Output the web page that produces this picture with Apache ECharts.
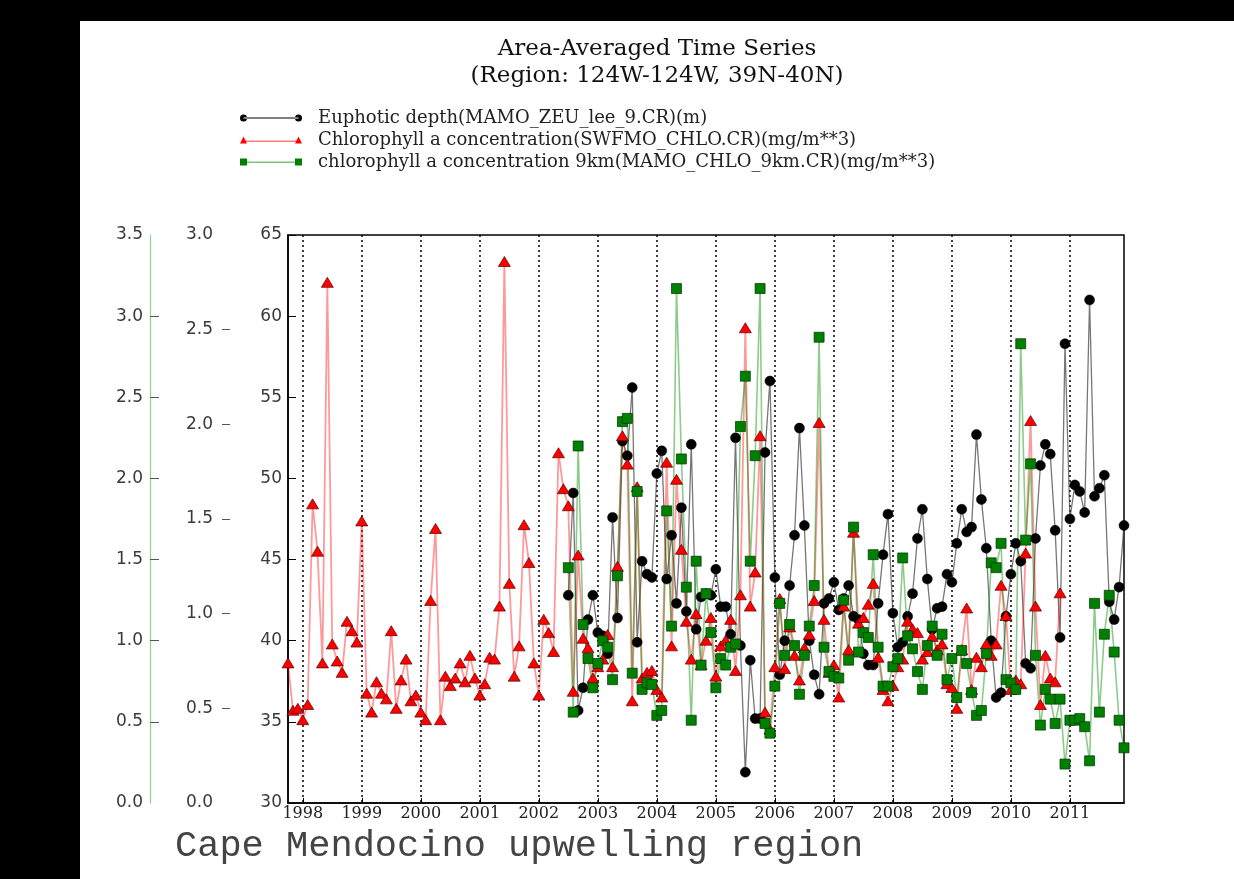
<!DOCTYPE html>
<html><head><meta charset="utf-8">
<script src="https://cdn.jsdelivr.net/npm/echarts@6/dist/echarts.min.js"></script>
<style>
html,body{margin:0;padding:0;background:#000;width:1234px;height:879px;overflow:hidden}
#c{position:absolute;left:80px;top:21px;width:1154px;height:858px;background:#fff}
</style></head><body><div id="c"></div>
<script>
// Monthly categories Oct 1997 .. Dec 2011
const months = [];
for (let y = 1997; y <= 2011; y++) for (let m = 1; m <= 12; m++) {
  if (y === 1997 && m < 10) continue;
  months.push(y + '-' + String(m).padStart(2, '0'));
}
const yearTicks = ['1998','1999','2000','2001','2002','2003','2004','2005','2006','2007','2008','2009','2010','2011'];

// Euphotic depth (m), Jul 2002 .. Dec 2011
const zeuStart = '2002-07';
const zeu = [
  42.8, 49.1, 35.7, 37.1, 41.3, 42.8,
  40.5, 40.3, 39.2, 47.6, 41.4, 52.3, 51.4, 55.6, 39.9, 44.9, 44.1, 43.9,
  50.3, 51.7, 43.8, 46.5, 42.3, 48.2, 41.8, 52.1, 40.7, 42.7, 42.9, 42.8,
  44.4, 42.1, 42.1, 40.4, 52.5, 39.7, 31.9, 38.8, 35.2, 35.2, 51.6, 56.0,
  43.9, 37.9, 40.0, 43.4, 46.5, 53.1, 47.1, 40.0, 37.9, 36.7, 42.3, 42.6,
  43.6, 41.9, 42.6, 43.4, 41.5, 41.3, 39.2, 38.5, 38.5, 42.3, 45.3, 47.8,
  41.7, 39.6, 39.9, 41.5, 42.9, 46.3, 48.1, 43.8, 40.7, 42.0, 42.1, 44.1,
  43.6, 46.0, 48.1, 46.7, 47.0, 52.7, 48.7, 45.7, 40.0, 36.5, 36.8, 41.5,
  44.1, 46.0, 44.9, 38.6, 38.3, 46.3, 50.8, 52.1, 51.5, 46.8, 40.2, 58.3,
  47.5, 49.6, 49.2, 47.9, 61.0, 48.9, 49.4, 50.2, 42.4, 41.3, 43.3, 47.1
];

// SeaWiFS chlorophyll (mg/m**3), Oct 1997 .. Nov 2010
const swfStart = '1997-10';
const swf = [
  0.74, 0.49, 0.50,
  0.44, 0.52, 1.58, 1.33, 0.74, 2.75, 0.84, 0.75, 0.69, 0.96, 0.91, 0.85,
  1.49, 0.58, 0.48, 0.64, 0.58, 0.55, 0.91, 0.50, 0.65, 0.76, 0.54, 0.57,
  0.48, 0.44, 1.07, 1.45, 0.44, 0.67, 0.62, 0.66, 0.74, 0.64, 0.78, 0.66,
  0.57, 0.63, 0.77, 0.76, 1.04, 2.86, 1.16, 0.67, 0.83, 1.47, 1.27, 0.74,
  0.57, 0.97, 0.90, 0.80, 1.85, 1.66, 1.57, 0.59, 1.31, 0.87, 0.82, 0.66,
  0.72, 0.76, 0.89, 0.72, 1.25, 1.94, 1.79, 0.54, 1.67, 0.66, 0.69, 0.70,
  0.60, 0.56, 1.80, 0.83, 1.71, 1.34, 0.96, 0.76, 1.00, 0.73, 0.86, 0.98,
  0.67, 0.83, 0.86, 0.97, 0.70, 1.10, 2.51, 1.04, 1.22, 1.94, 0.48, 0.39,
  0.72, 1.08, 0.71, 0.93, 0.78, 0.65, 0.82, 0.89, 1.07, 2.01, 0.97, 0.69,
  0.73, 0.56, 1.04, 0.81, 1.43, 0.95, 0.98, 1.05, 1.16, 0.77, 0.60, 0.54,
  0.62, 0.72, 0.76, 0.96, 0.92, 0.90, 0.76, 0.80, 0.88, 0.81, 0.84, 0.63,
  0.61, 0.50, 0.81, 1.03, 0.60, 0.77, 0.72, 0.84, 0.78, 0.84, 1.15, 0.99,
  0.60, 0.65, 0.63, 1.32, 2.02, 1.04, 0.52, 0.78, 0.66, 0.64, 1.11
];

// MODIS 9km chlorophyll (mg/m**3), Jul 2002 .. Dec 2011
const chl9Start = '2002-07';
const chl9 = [
  1.45, 0.56, 2.20, 1.10, 0.89, 0.71,
  0.86, 1.00, 0.96, 0.76, 1.40, 2.35, 2.37, 0.80, 1.92, 0.70, 0.74, 0.73,
  0.54, 0.57, 1.80, 1.09, 3.17, 2.12, 1.33, 0.51, 1.49, 0.85, 1.29, 1.05,
  0.71, 0.89, 0.85, 0.96, 0.98, 2.32, 2.63, 1.49, 2.14, 3.17, 0.49, 0.43,
  0.72, 1.23, 0.91, 1.10, 0.97, 0.67, 0.91, 1.09, 1.34, 2.87, 0.96, 0.81,
  0.78, 0.77, 1.25, 0.88, 1.70, 0.93, 1.05, 1.02, 1.53, 0.96, 0.72, 0.72,
  0.84, 0.89, 1.51, 1.03, 0.95, 0.81, 0.70, 0.97, 1.09, 0.91, 1.04, 0.76,
  0.89, 0.65, 0.94, 0.86, 0.68, 0.54, 0.57, 0.92, 1.48, 1.45, 1.60, 0.76,
  0.74, 0.70, 2.83, 1.62, 2.09, 0.91, 0.48, 0.70, 0.64, 0.49, 0.64, 0.24,
  0.51, 0.51, 0.52, 0.47, 0.26, 1.23, 0.56, 1.04, 1.28, 0.93, 0.51, 0.34
];

const names = [
  'Euphotic depth(MAMO_ZEU_lee_9.CR)(m)',
  'Chlorophyll a concentration(SWFMO_CHLO.CR)(mg/m**3)',
  'chlorophyll a concentration 9km(MAMO_CHLO_9km.CR)(mg/m**3)'
];

function place(start, vals) {
  const arr = new Array(months.length).fill(null);
  const s = months.indexOf(start);
  vals.forEach((v, k) => { arr[s + k] = v; });
  return arr;
}
const isJan = (i, v) => yearTicks.indexOf(String(v).slice(0, 4)) >= 0 && String(v).slice(5) === '01';

const labelFont = { fontFamily: 'DejaVu Sans', fontSize: 17, color: '#3a3a3a' };

const chart = echarts.init(document.getElementById('c'));
chart.setOption({
  animation: false,
  backgroundColor: '#fff',
  title: [
    { text: 'Area-Averaged Time Series\n(Region: 124W-124W, 39N-40N)', left: 'center', top: 10,
      textStyle: { fontFamily: 'DejaVu Serif', fontSize: 23, fontWeight: 'normal', color: '#111', lineHeight: 27 } },
    { text: 'Cape Mendocino upwelling region', left: 95, top: 806, padding: 0,
      textStyle: { fontFamily: 'Liberation Mono', fontSize: 37, fontWeight: 'normal', color: '#444', lineHeight: 38 } }
  ],
  legend: {
    orient: 'vertical', left: 155, top: 82, itemWidth: 62, itemHeight: 7, itemGap: 2,
    itemStyle: { borderWidth: 0 },
    textStyle: { fontFamily: 'DejaVu Serif', fontSize: 18, color: '#222', lineHeight: 20, padding: [0, 0, 0, 11] },
    data: [
      { name: names[0], icon: 'path://M0,3.5a3.5,3.5 0 1,0 7,0a3.5,3.5 0 1,0 -7,0Z M55,3.5a3.5,3.5 0 1,0 7,0a3.5,3.5 0 1,0 -7,0Z M3.5,3H58.5V4H3.5Z' },
      { name: names[1], icon: 'path://M0,7L3.5,0L7,7Z M55,7L58.5,0L62,7Z M3.5,4.2H58.5V4.9H3.5Z' },
      { name: names[2], icon: 'path://M0,0H7V7H0Z M55,0H62V7H55Z M3.5,3.2H58.5V3.9H3.5Z' }
    ]
  },
  grid: { left: 208, top: 214, width: 836, height: 568, show: true, borderColor: '#000', borderWidth: 1.5 },
  xAxis: {
    type: 'category', data: months, boundaryGap: false,
    axisLine: { show: true, lineStyle: { color: '#000', width: 1.5 } },
    axisTick: { show: true, inside: true, length: 5, interval: isJan, lineStyle: { color: '#000' } },
    axisLabel: { interval: isJan, formatter: v => v.slice(0, 4), margin: 3,
      fontFamily: 'DejaVu Serif', fontSize: 16, color: '#222' },
    splitLine: { show: true, interval: isJan, lineStyle: { color: '#000', type: [2, 3], width: 1.5 } }
  },
  yAxis: [
    { type: 'value', min: 30, max: 65, interval: 5, position: 'left',
      axisLine: { show: true, lineStyle: { color: '#000', width: 1.5 } },
      axisTick: { show: true, inside: true, length: 8, lineStyle: { color: '#000' } },
      axisLabel: Object.assign({ margin: 6 }, labelFont),
      splitLine: { show: false } },
    { type: 'value', min: 0, max: 3, interval: 0.5, position: 'left', offset: 66,
      axisLine: { show: false },
      axisTick: { show: true, inside: true, length: 8, customValues: [0.5, 1, 1.5, 2, 2.5], lineStyle: { color: '#555' } },
      axisLabel: Object.assign({ margin: 9, formatter: v => v.toFixed(1) }, labelFont),
      splitLine: { show: false } },
    { type: 'value', min: 0, max: 3.5, interval: 0.5, position: 'left', offset: 138,
      axisLine: { show: true, lineStyle: { color: '#8fcf8f', width: 1.2 } },
      axisTick: { show: true, inside: true, length: 9, customValues: [0.5, 1, 1.5, 2, 2.5, 3], lineStyle: { color: '#555' } },
      axisLabel: Object.assign({ margin: 7, formatter: v => v.toFixed(1) }, labelFont),
      splitLine: { show: false } }
  ],
  series: [
    { name: names[0], type: 'line', yAxisIndex: 0, data: place(zeuStart, zeu),
      showAllSymbol: true, symbol: 'circle', symbolSize: 10,
      itemStyle: { color: '#000', borderColor: '#000', borderWidth: 0.5 },
      lineStyle: { color: 'rgba(60,60,60,0.7)', width: 1.3 } },
    { name: names[1], type: 'line', yAxisIndex: 1, data: place(swfStart, swf),
      showAllSymbol: true, symbol: 'triangle', symbolSize: [12, 10],
      itemStyle: { color: '#ff0000', borderColor: '#500', borderWidth: 0.7 },
      lineStyle: { color: 'rgba(255,0,0,0.4)', width: 1.8 } },
    { name: names[2], type: 'line', yAxisIndex: 2, data: place(chl9Start, chl9),
      showAllSymbol: true, symbol: 'rect', symbolSize: 10,
      itemStyle: { color: '#008000', borderColor: '#003300', borderWidth: 0.7 },
      lineStyle: { color: 'rgba(0,140,0,0.45)', width: 1.6 } }
  ]
});
</script></body></html>
